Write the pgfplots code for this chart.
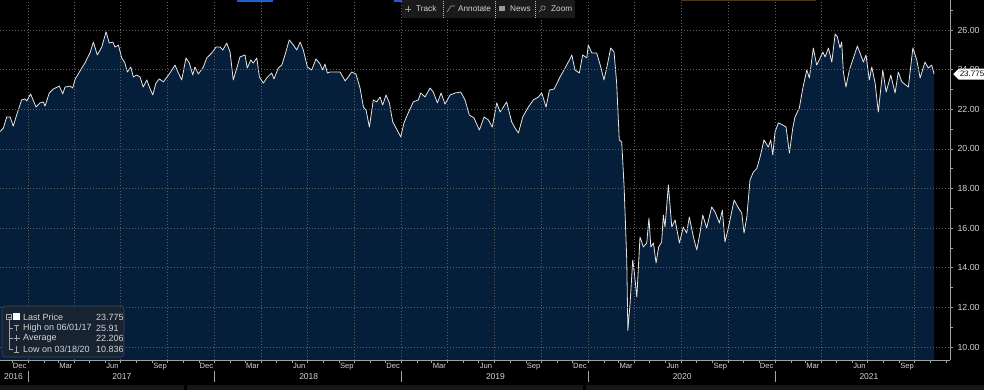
\documentclass[border=0pt]{standalone}
\usepackage{fontspec}
\setmainfont{Liberation Sans}
\usepackage{pgfplots}
\usepackage{pgfplotstable}
\pgfplotsset{compat=1.18}
\usetikzlibrary{shapes.symbols}
\definecolor{bg}{RGB}{0,0,0}
\definecolor{navy}{RGB}{5,30,58}
\definecolor{gridc}{RGB}{95,95,95}
\definecolor{txt}{RGB}{212,212,212}
\definecolor{linec}{RGB}{228,228,228}
\definecolor{legbg}{RGB}{26,36,50}
\definecolor{legbd}{RGB}{62,72,88}
\definecolor{axc}{RGB}{160,160,160}
\newcommand\fs{\fontsize{8}{9.6}\selectfont}
\newcommand\fsy{\fontsize{8.8}{10}\selectfont}
\newcommand\fsm{\fontsize{7.6}{9}\selectfont}
\newcommand\fsyr{\fontsize{8.5}{10}\selectfont}
\newcommand\fsl{\fontsize{9}{10.5}\selectfont}
\newcommand\fst{\fontsize{8.2}{9.6}\selectfont}

\pgfplotstableread{
x y
2016.850 20.87
2016.868 21.05
2016.886 21.61
2016.904 21.61
2016.921 21.15
2016.939 21.71
2016.966 22.47
2016.984 22.52
2016.993 22.42
2017.014 22.77
2017.043 22.11
2017.064 22.32
2017.082 22.37
2017.091 22.16
2017.114 22.82
2017.135 23.02
2017.168 23.17
2017.186 22.77
2017.198 23.12
2017.225 23.17
2017.239 23.07
2017.253 23.53
2017.288 24.08
2017.305 24.33
2017.318 24.59
2017.332 24.84
2017.350 25.39
2017.371 24.74
2017.395 25.14
2017.418 25.91
2017.435 25.34
2017.454 25.39
2017.466 25.14
2017.484 25.24
2017.502 24.59
2017.519 24.33
2017.532 23.88
2017.550 24.13
2017.564 23.63
2017.582 23.73
2017.600 23.63
2017.617 23.12
2017.636 23.48
2017.650 23.12
2017.668 22.72
2017.685 23.32
2017.703 23.53
2017.725 23.38
2017.760 23.83
2017.787 24.23
2017.805 23.83
2017.823 23.48
2017.846 24.59
2017.864 24.33
2017.882 23.73
2017.894 24.13
2017.912 23.78
2017.939 24.13
2017.957 24.59
2017.984 24.84
2018.007 25.14
2018.028 25.14
2018.043 24.99
2018.064 25.34
2018.082 24.89
2018.099 23.48
2018.118 24.08
2018.135 24.64
2018.162 24.74
2018.174 24.08
2018.193 24.49
2018.206 24.33
2018.225 24.59
2018.239 23.63
2018.260 23.32
2018.278 23.58
2018.305 23.83
2018.317 23.53
2018.340 24.08
2018.359 24.23
2018.376 24.74
2018.399 25.50
2018.421 25.24
2018.439 24.99
2018.457 25.39
2018.474 24.99
2018.496 24.13
2018.519 23.98
2018.542 24.54
2018.564 24.28
2018.578 23.98
2018.590 24.28
2018.603 23.83
2018.617 23.88
2018.635 23.88
2018.671 23.88
2018.698 23.43
2018.715 23.63
2018.733 23.88
2018.756 23.78
2018.778 23.07
2018.796 22.11
2018.810 21.96
2018.828 21.10
2018.849 22.47
2018.867 22.37
2018.885 22.62
2018.899 22.21
2018.917 22.72
2018.935 22.32
2018.953 21.36
2018.971 21.05
2018.996 20.60
2019.013 21.31
2019.031 21.71
2019.063 22.37
2019.090 22.47
2019.103 22.82
2019.126 22.62
2019.153 23.07
2019.170 22.87
2019.192 22.32
2019.212 22.82
2019.233 22.26
2019.260 22.72
2019.287 22.82
2019.317 22.87
2019.340 22.47
2019.363 21.71
2019.388 21.56
2019.417 20.95
2019.442 21.61
2019.465 21.46
2019.486 21.10
2019.510 22.32
2019.528 21.86
2019.563 22.37
2019.590 21.36
2019.608 21.05
2019.626 20.80
2019.649 21.61
2019.679 22.11
2019.706 22.47
2019.733 22.62
2019.751 22.82
2019.774 22.11
2019.792 22.97
2019.817 23.02
2019.849 23.63
2019.876 24.08
2019.899 24.49
2019.912 24.74
2019.929 23.98
2019.952 23.83
2019.970 24.74
2019.992 24.59
2020.000 25.24
2020.019 24.84
2020.045 24.84
2020.067 24.13
2020.084 23.48
2020.102 24.23
2020.120 25.09
2020.138 24.89
2020.152 23.32
2020.166 20.45
2020.179 20.35
2020.192 18.08
2020.206 14.39
2020.212 10.84
2020.224 12.22
2020.238 14.39
2020.247 13.73
2020.260 12.52
2020.277 15.55
2020.295 15.05
2020.313 15.25
2020.325 16.51
2020.335 15.05
2020.349 15.25
2020.363 14.24
2020.377 15.05
2020.393 15.30
2020.402 16.66
2020.411 16.06
2020.429 18.18
2020.447 16.06
2020.465 16.41
2020.488 15.25
2020.509 16.06
2020.527 15.75
2020.541 16.56
2020.563 15.55
2020.581 14.90
2020.599 15.80
2020.613 16.66
2020.634 16.01
2020.661 17.07
2020.679 16.81
2020.702 16.26
2020.718 16.91
2020.732 15.30
2020.750 16.01
2020.781 17.42
2020.804 17.02
2020.822 16.76
2020.834 15.75
2020.849 16.56
2020.866 18.43
2020.884 18.83
2020.902 19.00
2020.920 19.59
2020.941 20.45
2020.964 20.09
2020.977 20.45
2020.988 19.69
2021.000 20.85
2021.018 21.31
2021.041 21.21
2021.059 21.10
2021.077 19.79
2021.095 21.05
2021.107 21.61
2021.130 22.06
2021.149 23.07
2021.170 23.98
2021.184 23.58
2021.205 25.09
2021.223 24.23
2021.237 24.49
2021.256 24.89
2021.268 24.64
2021.286 25.09
2021.304 24.38
2021.322 25.80
2021.334 25.65
2021.348 25.09
2021.357 25.39
2021.366 23.88
2021.380 23.12
2021.398 23.98
2021.416 24.49
2021.441 25.19
2021.455 24.84
2021.473 24.38
2021.487 24.74
2021.505 23.48
2021.518 24.13
2021.536 23.32
2021.553 21.86
2021.577 23.98
2021.595 22.87
2021.620 23.73
2021.643 22.82
2021.660 23.88
2021.679 23.38
2021.714 23.12
2021.738 25.09
2021.759 24.49
2021.777 23.58
2021.803 24.38
2021.821 24.08
2021.839 24.23
2021.852 23.775
}\pricedata

\begin{document}
\begin{tikzpicture}[x=1pt,y=1pt]
\fill[bg] (0,0) rectangle (984,390);
\useasboundingbox (0,0) rectangle (984,390);
\begin{axis}[
  at={(0pt,30pt)}, anchor=south west,
  scale only axis, width=950pt, height=360pt,
  xmin=2016.850, xmax=2021.937, ymin=9.344, ymax=27.514,
  clip mode=individual,
  axis on top,
  axis x line*=bottom, axis y line*=right,
  axis line style={draw=axc, line width=0.7pt},
  tick align=outside,
  major tick length=0pt, minor tick length=3pt,
  tick style={draw=axc, line width=0.7pt},
  xtick={2016.955,2017.203,2017.452,2017.707,2017.955,2018.203,2018.452,2018.707,2018.955,2019.203,2019.452,2019.707,2019.955,2020.203,2020.452,2020.707,2020.955,2021.203,2021.452,2021.707},
  xticklabels={Dec,Mar,Jun,Sep,Dec,Mar,Jun,Sep,Dec,Mar,Jun,Sep,Dec,Mar,Jun,Sep,Dec,Mar,Jun,Sep},
  xticklabel style={font=\fsm, text=txt, inner sep=1pt, yshift=-2pt},
  minor xtick={2016.915,2017.000,2017.085,2017.162,2017.247,2017.329,2017.414,2017.496,2017.581,2017.666,2017.748,2017.833,2017.915,2018.000,2018.085,2018.162,2018.247,2018.329,2018.414,2018.496,2018.581,2018.666,2018.748,2018.833,2018.915,2019.000,2019.085,2019.162,2019.247,2019.329,2019.414,2019.496,2019.581,2019.666,2019.748,2019.833,2019.915,2020.000,2020.085,2020.162,2020.247,2020.329,2020.414,2020.496,2020.581,2020.666,2020.748,2020.833,2020.915,2021.000,2021.085,2021.162,2021.247,2021.329,2021.414,2021.496,2021.581,2021.666,2021.748,2021.833,2021.915},
  ytick={10,12,14,16,18,20,22,24,26},
  minor ytick={10,11,12,13,14,15,16,17,18,19,20,21,22,23,24,25,26,27},
  yticklabel style={font=\fsy, text=txt, anchor=west, xshift=4pt,
     /pgf/number format/.cd, fixed, fixed zerofill, precision=2, assume math mode=true},
  ymajorgrids,
  major grid style={draw=gridc, dash pattern=on 1pt off 2pt, line width=0.6pt},
]
\addplot[fill=navy, draw=none] table[x=x, y=y] {\pricedata} \closedcycle;
\pgfplotsinvokeforeach{2017.000,2017.247,2017.496,2017.748,2018.000,2018.247,2018.496,2018.748,2019.000,2019.247,2019.496,2019.748,2020.000,2020.247,2020.496,2020.748,2021.000,2021.247,2021.496,2021.748}{
  \draw[draw=gridc, dash pattern=on 1pt off 2pt, line width=0.6pt] (axis cs:#1,9.344) -- (axis cs:#1,27.514);
}
\addplot[draw=linec, line width=0.8pt, line join=round] table[x=x, y=y] {\pricedata};
% price tag
\node[signal, signal to=west, fill=white, text=black, font=\fs, inner sep=1pt, anchor=west, minimum height=11pt]
  at ([xshift=3pt]axis cs:2021.937,23.775) {23.775};
% year labels
\node[font=\fsyr, text=txt] at ([yshift=-17pt]axis cs:2017.503,9.344) {2017};
\node[font=\fsyr, text=txt] at ([yshift=-17pt]axis cs:2018.503,9.344) {2018};
\node[font=\fsyr, text=txt] at ([yshift=-17pt]axis cs:2019.503,9.344) {2019};
\node[font=\fsyr, text=txt] at ([yshift=-17pt]axis cs:2020.503,9.344) {2020};
\node[font=\fsyr, text=txt] at ([yshift=-17pt]axis cs:2021.503,9.344) {2021};
\draw[draw=gray!70, line width=0.6pt] ([yshift=-11pt]axis cs:2017,9.344) -- ([yshift=-22pt]axis cs:2017,9.344);
\draw[draw=gray!70, line width=0.6pt] ([yshift=-11pt]axis cs:2018,9.344) -- ([yshift=-22pt]axis cs:2018,9.344);
\draw[draw=gray!70, line width=0.6pt] ([yshift=-11pt]axis cs:2019,9.344) -- ([yshift=-22pt]axis cs:2019,9.344);
\draw[draw=gray!70, line width=0.6pt] ([yshift=-11pt]axis cs:2020,9.344) -- ([yshift=-22pt]axis cs:2020,9.344);
\draw[draw=gray!70, line width=0.6pt] ([yshift=-11pt]axis cs:2021,9.344) -- ([yshift=-22pt]axis cs:2021,9.344);
\end{axis}
% 2016 label
\node[font=\fsyr, text=txt] at (13.5,13.5) {2016};
% bottom strip
\fill[fill={rgb,255:red,22;green,22;blue,22}] (0,0) rectangle (184,5);
\fill[fill={rgb,255:red,22;green,22;blue,22}] (187,0) rectangle (583,5);
\fill[fill={rgb,255:red,22;green,22;blue,22}] (586,0) rectangle (984,5);
% top accents
\fill[fill={rgb,255:red,30;green,95;blue,200}] (237,388) rectangle (273,390);
\fill[fill={rgb,255:red,30;green,95;blue,200}] (394,388) rectangle (419,390);
\fill[fill={rgb,255:red,80;green,55;blue,30}] (681,389) rectangle (816,390);
% toolbar
\fill[fill={rgb,255:red,26;green,26;blue,26}] (402,372) rectangle (575,390);
\begin{scope}[draw=gray!80, line width=0.6pt]
  \draw (405,381) -- (411,381); \draw (408,378) -- (408,384);
  \draw (447,378) -- (451,384) -- (455,384);
  \fill[gray!80] (499,379) rectangle (505,384);
  \draw (543,382) circle (2.2pt); \draw (541.5,380.5) -- (539,378);
  \draw[dash pattern=on 1pt off 1pt, draw=gray!50] (443,372) -- (443,390);
  \draw[dash pattern=on 1pt off 1pt, draw=gray!50] (495,372) -- (495,390);
  \draw[dash pattern=on 1pt off 1pt, draw=gray!50] (535,372) -- (535,390);
\end{scope}
\node[font=\fst, text=txt, anchor=west, inner sep=0pt] at (416,381) {Track};
\node[font=\fst, text=txt, anchor=west, inner sep=0pt] at (458,381) {Annotate};
\node[font=\fst, text=txt, anchor=west, inner sep=0pt] at (510,381) {News};
\node[font=\fst, text=txt, anchor=west, inner sep=0pt] at (551,381) {Zoom};
% legend box
\filldraw[fill=legbg, draw=legbd, fill opacity=0.92, rounded corners=3pt, line width=0.6pt] (2,33) rectangle (124,84);
\begin{scope}[draw=gray!70, line width=0.5pt]
  \draw (6.5,70.5) rectangle (11.5,75.5); \draw (7.5,73) -- (10.5,73);
  \draw (9,70.5) -- (9,41);
  \draw (9,62) -- (13,62); \draw (14,65) -- (19,65); \draw (16.5,65) -- (16.5,59);
  \draw (9,51.5) -- (13,51.5); \draw (13.5,51.5) -- (19.5,51.5); \draw (16.5,48.5) -- (16.5,54.5);
  \draw (9,41) -- (13,41); \draw (14,38) -- (19,38); \draw (16.5,38) -- (16.5,44);
\end{scope}
\fill[white] (13,69.5) rectangle (20,76.5);
\node[font=\fsl, text=txt, anchor=west, inner sep=0pt] at (23,73) {Last Price};
\node[font=\fsl, text=txt, anchor=west, inner sep=0pt] at (23,62) {High on 06/01/17};
\node[font=\fsl, text=txt, anchor=west, inner sep=0pt] at (23,51.5) {Average};
\node[font=\fsl, text=txt, anchor=west, inner sep=0pt] at (23,41) {Low on 03/18/20};
\node[font=\fsl, text=txt, anchor=west, inner sep=0pt] at (96,73) {23.775};
\node[font=\fsl, text=txt, anchor=west, inner sep=0pt] at (96,62) {25.91};
\node[font=\fsl, text=txt, anchor=west, inner sep=0pt] at (96,51.5) {22.206};
\node[font=\fsl, text=txt, anchor=west, inner sep=0pt] at (96,41) {10.836};
\end{tikzpicture}
\end{document}
